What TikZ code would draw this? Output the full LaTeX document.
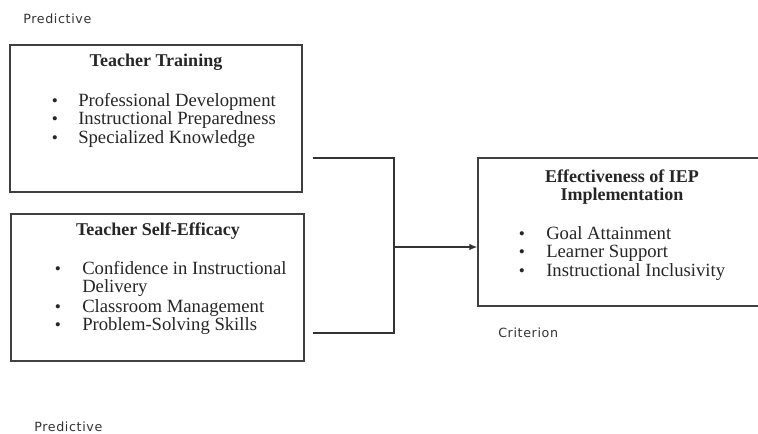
\documentclass[tikz,border=0pt]{standalone}
\usepackage{fontspec}
\setmainfont{Liberation Serif}
\newfontfamily\lblfont[LetterSpace=5]{DejaVu Sans}
\usetikzlibrary{arrows.meta,calc}
\begin{document}
\begin{tikzpicture}[x=0.75pt,y=-0.75pt,
  box/.style={draw=black!75,line width=1.1pt,rectangle,inner sep=0pt},
  ttl/.style={font=\fontsize{13.5}{15}\selectfont\bfseries,text=black!85,inner sep=0pt,anchor=base},
  itm/.style={font=\fontsize{14}{15}\selectfont,text=black!85,anchor=base west,inner sep=0pt},
  bul/.style={font=\fontsize{13}{15}\selectfont,text=black!85,inner sep=0pt,anchor=base},
  lbl/.style={font=\lblfont\fontsize{9.5}{11}\selectfont,text=black!80,anchor=base west,inner sep=0pt},
  conn/.style={draw=black!80,line width=0.9pt}]
\useasboundingbox (0,0) rectangle (758,433);
\fill[white] (0,0) rectangle (758,433);

% labels
\node[lbl] (p1) at (23,23) {Predictive};
\node[lbl] (p2) at (34,431) {Predictive};
\node[lbl] (cr) at (498,337) {Criterion};

% box 1
\node[box,minimum width=292*0.75pt,minimum height=147*0.75pt] (b1) at (156,118.5) {};
\node[ttl] (t1) at (156,66) {Teacher Training};
\node[bul] at (55,106) {•};
\node[itm] (i11) at (78,106) {Professional Development};
\node[bul] at (55,124.5) {•};
\node[itm] (i12) at (78,124.5) {Instructional Preparedness};
\node[bul] at (55,143) {•};
\node[itm] (i13) at (78,143) {Specialized Knowledge};

% box 2
\node[box,minimum width=293*0.75pt,minimum height=147*0.75pt] (b2) at (157.5,287.5) {};
\node[ttl] (t2) at (158,235) {Teacher Self-Efficacy};
\node[bul] at (58,274) {•};
\node[itm] (i21) at (82,274) {Confidence in Instructional};
\node[itm] (i21b) at (82,292.5) {Delivery};
\node[bul] at (58,312) {•};
\node[itm] (i22) at (82,312) {Classroom Management};
\node[bul] at (58,330.5) {•};
\node[itm] (i23) at (82,330.5) {Problem-Solving Skills};

% box 3 (runs past right edge)
\node[box,minimum width=312*0.75pt,minimum height=148*0.75pt] (b3) at (634,232) {};
\node[ttl] (t3a) at (622,182) {Effectiveness of IEP};
\node[ttl] (t3b) at (622,200) {Implementation};
\node[bul] at (522,239) {•};
\node[itm] (i31) at (546,239) {Goal Attainment};
\node[bul] at (522,257.5) {•};
\node[itm] (i32) at (546,257.5) {Learner Support};
\node[bul] at (522,276.5) {•};
\node[itm] (i33) at (546,276.5) {Instructional Inclusivity};

% connectors
\coordinate (c1) at ($(b1.east)+(10,39.5)$);
\coordinate (c2) at ($(b2.east)+(8,45.5)$);
\coordinate (j) at (394,247);
\coordinate (a) at (b3.west |- j);
\draw[conn] (c1) -| (j);
\draw[conn] (c2) -| (j);
\draw[conn,-{Latex[length=6pt,width=5pt]}] (j) -- (a);
\end{tikzpicture}
\end{document}
